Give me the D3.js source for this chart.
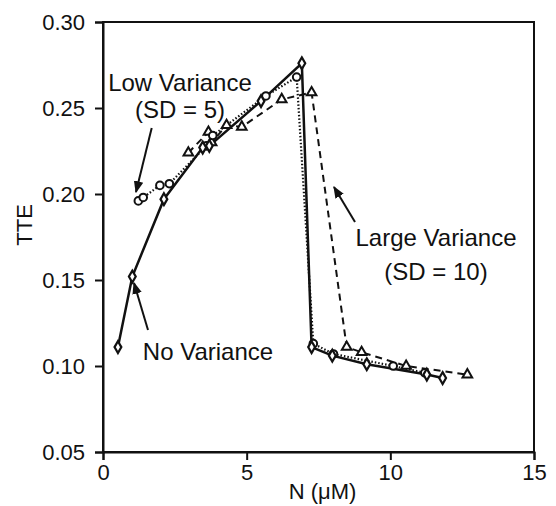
<!DOCTYPE html>
<html>
<head>
<meta charset="utf-8">
<script src="https://cdn.jsdelivr.net/npm/d3@7"></script>
<style>
body { margin: 0; background: #fff; }
svg text { font-family: "Liberation Sans", Arial, sans-serif; fill: #111; }
</style>
</head>
<body>
<div id="chart"></div>
<script>
// data
var noVariance = [
  [0.52, 0.111], [1.02, 0.152], [2.12, 0.197], [3.47, 0.227], [3.7, 0.228],
  [5.5, 0.254], [6.92, 0.276], [7.26, 0.111], [7.98, 0.106], [9.18, 0.101],
  [11.27, 0.095], [11.82, 0.093]
];
var lowVariance = [
  [1.23, 0.196], [1.4, 0.198], [1.98, 0.205], [2.31, 0.206], [3.6, 0.228],
  [3.82, 0.234], [5.67, 0.257], [6.74, 0.268], [7.32, 0.113], [8.02, 0.107],
  [10.1, 0.100], [11.2, 0.096]
];
var largeVariance = [
  [2.97, 0.224], [3.67, 0.236], [3.78, 0.230], [4.3, 0.240], [4.83, 0.239],
  [6.22, 0.255], [7.26, 0.259], [8.48, 0.111], [9.0, 0.108], [10.55, 0.100],
  [12.68, 0.095]
];
var xTicks = [0, 5, 10, 15];
var yTicks = [0.05, 0.10, 0.15, 0.20, 0.25, 0.30];

var width = 556, height = 506;
var margin = {left: 103, right: 22, top: 22, bottom: 54};

var svg = d3.select('#chart').append('svg')
  .attr('width', width)
  .attr('height', height);

var x = d3.scaleLinear().domain([0, 15]).range([margin.left, width - margin.right]);
var y = d3.scaleLinear().domain([0.05, 0.30]).range([height - margin.bottom, margin.top]);

// frame
svg.append('rect')
  .attr('x', x(0)).attr('y', y(0.30))
  .attr('width', x(15) - x(0)).attr('height', y(0.05) - y(0.30))
  .attr('fill', 'none').attr('stroke', '#111').attr('stroke-width', 2);

var xAxis = d3.axisBottom(x).tickValues(xTicks).tickFormat(d3.format('d')).tickSize(8).tickPadding(4);
var yAxis = d3.axisLeft(y).tickValues(yTicks).tickFormat(d3.format('.2f')).tickSize(8).tickPadding(10);

var gx = svg.append('g')
  .attr('transform', 'translate(0,' + y(0.05) + ')')
  .call(xAxis);
var gy = svg.append('g')
  .attr('transform', 'translate(' + x(0) + ',0)')
  .call(yAxis);

[gx, gy].forEach(function(g) {
  g.select('.domain').attr('stroke', '#111').attr('stroke-width', 2);
  g.selectAll('.tick line').attr('stroke', '#111').attr('stroke-width', 2);
  g.selectAll('.tick text').attr('font-size', 22).attr('fill', '#111')
    .style('font-family', '"Liberation Sans", Arial, sans-serif');
});

// axis titles
svg.append('text')
  .attr('x', (x(0) + x(15)) / 2 + 4).attr('y', 499)
  .attr('text-anchor', 'middle').attr('font-size', 22).attr('fill', '#111')
  .text('N (\u03bcM)');
svg.append('text')
  .attr('transform', 'translate(32,' + y(0.182) + ') rotate(-90)')
  .attr('text-anchor', 'middle').attr('font-size', 22).attr('fill', '#111')
  .text('TTE');

var line = d3.line()
  .x(function(d) { return x(d[0]); })
  .y(function(d) { return y(d[1]); });

// lines
svg.append('path').datum(largeVariance)
  .attr('fill', 'none').attr('stroke', '#111').attr('stroke-width', 2)
  .attr('stroke-dasharray', '7,5').attr('d', line);
svg.append('path').datum(lowVariance)
  .attr('fill', 'none').attr('stroke', '#111').attr('stroke-width', 2.2)
  .attr('stroke-dasharray', '1.5,2').attr('d', line);
svg.append('path').datum(noVariance)
  .attr('fill', 'none').attr('stroke', '#111').attr('stroke-width', 2.5)
  .attr('d', line);

// markers
svg.selectAll('.tri').data(largeVariance).enter().append('path')
  .attr('class', 'tri')
  .attr('d', d3.symbol().type(d3.symbolTriangle).size(40))
  .attr('transform', function(d) { return 'translate(' + x(d[0]) + ',' + y(d[1]) + ')'; })
  .attr('fill', 'white').attr('stroke', '#111').attr('stroke-width', 2);
svg.selectAll('.circ').data(lowVariance).enter().append('circle')
  .attr('class', 'circ')
  .attr('cx', function(d) { return x(d[0]); })
  .attr('cy', function(d) { return y(d[1]); })
  .attr('r', 3.8)
  .attr('fill', 'white').attr('stroke', '#111').attr('stroke-width', 2);
svg.selectAll('.dia').data(noVariance).enter().append('path')
  .attr('class', 'dia')
  .attr('d', d3.symbol().type(d3.symbolDiamond).size(40))
  .attr('transform', function(d) { return 'translate(' + x(d[0]) + ',' + y(d[1]) + ')'; })
  .attr('fill', 'white').attr('stroke', '#111').attr('stroke-width', 2.2);

// annotations
svg.append('defs').append('marker')
  .attr('id', 'head').attr('viewBox', '0 0 10 10')
  .attr('refX', 9).attr('refY', 5)
  .attr('markerWidth', 6).attr('markerHeight', 6)
  .attr('markerUnits', 'strokeWidth')
  .attr('orient', 'auto')
  .append('path').attr('d', 'M0,1 L10,5 L0,9 Z').attr('fill', '#111');

var notes = [
  {lines: ['Low Variance', '(SD = 5)'], tx: 180, ty: 91, gap: 27, from: [151.7, 128], to: [136, 192]},
  {lines: ['No Variance'], tx: 208, ty: 360, gap: 0, from: [148, 330], to: [134, 283]},
  {lines: ['Large Variance', '(SD = 10)'], tx: 436, ty: 246, gap: 34, from: [355, 222], to: [334, 187]}
];
notes.forEach(function(n) {
  n.lines.forEach(function(t, i) {
    svg.append('text')
      .attr('x', n.tx).attr('y', n.ty + i * n.gap)
      .attr('text-anchor', 'middle').attr('font-size', 24).attr('fill', '#111')
      .text(t);
  });
  svg.append('line')
    .attr('x1', n.from[0]).attr('y1', n.from[1])
    .attr('x2', n.to[0]).attr('y2', n.to[1])
    .attr('stroke', '#111').attr('stroke-width', 2)
    .attr('marker-end', 'url(#head)');
});
</script>
</body>
</html>
